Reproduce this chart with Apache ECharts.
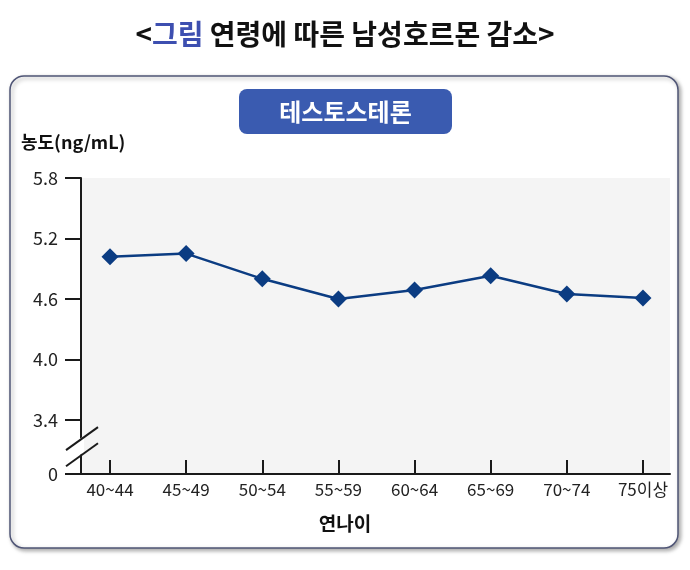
<!DOCTYPE html>
<html>
<head>
<meta charset="utf-8">
<style>
html,body{margin:0;padding:0;background:#fff;}
#chart{width:690px;height:570px;}
</style>
<script src="https://cdn.jsdelivr.net/npm/echarts@6.0.0/dist/echarts.min.js"></script>
</head>
<body>
<div id="chart"></div>
<script>
// ---- data ----
const categories = ['40~44', '45~49', '50~54', '55~59', '60~64', '65~69', '70~74', '75이상'];
const values = [5.02, 5.05, 4.80, 4.60, 4.69, 4.83, 4.65, 4.61];
const yTickValues = [3.4, 4.0, 4.6, 5.2, 5.8];
const yBottomLabel = '0';
const titlePrefix = '그림';
const titleText = ' 연령에 따른 남성호르몬 감소';
const badgeText = '테스토스테론';
const yAxisName = '농도(ng/mL)';
const xAxisName = '연나이';

const FONT = '"Noto Sans CJK KR", "Noto Sans", sans-serif';
const yMin = 2.864, yMax = 5.8;
const catIdx = categories.map((c, i) => i);

const chart = echarts.init(document.getElementById('chart'), null, {renderer: 'canvas'});

const option = {
  animation: false,
  title: {
    text: '{b|<}{c|' + titlePrefix + '}{b|' + titleText + '>}',
    left: 'center',
    top: 15,
    textStyle: {
      rich: {
        b: {fontFamily: FONT, fontSize: 28, fontWeight: 'bold', color: '#111'},
        c: {fontFamily: FONT, fontSize: 28, fontWeight: 'bold', color: '#3d4fb0'}
      }
    }
  },
  grid: {
    left: 81, right: 20, top: 178, bottom: 96,
    show: true, backgroundColor: '#f4f4f4', borderWidth: 0
  },
  xAxis: {
    type: 'value',
    min: -0.381, max: 7.355,
    axisLine: {show: true, onZero: false, lineStyle: {color: '#1a1a1a', width: 2}},
    axisTick: {show: true, inside: true, length: 14, customValues: catIdx, lineStyle: {color: '#1a1a1a', width: 2}},
    axisLabel: {
      customValues: catIdx, margin: 7,
      formatter: v => categories[Math.round(v)],
      fontFamily: FONT, fontSize: 17, color: '#222'
    },
    splitLine: {show: false}
  },
  yAxis: {
    type: 'value',
    min: yMin, max: yMax,
    axisLine: {show: true, onZero: false, lineStyle: {color: '#1a1a1a', width: 2}},
    axisTick: {show: true, length: 16, customValues: [yMin].concat(yTickValues), lineStyle: {color: '#1a1a1a', width: 2}},
    axisLabel: {
      customValues: [yMin].concat(yTickValues), margin: 23,
      formatter: v => (v < 3 ? yBottomLabel : v.toFixed(1)),
      fontFamily: FONT, fontSize: 18, color: '#222'
    },
    splitLine: {show: false}
  },
  series: [{
    type: 'line',
    data: values.map((v, i) => [i, v]),
    symbol: 'diamond',
    symbolSize: 17,
    itemStyle: {color: '#0b3c82'},
    lineStyle: {color: '#0b3c82', width: 2.5},
    z: 5
  }],
  graphic: [
    {
      type: 'rect', z: -100,
      shape: {x: 10, y: 76, width: 668, height: 472, r: 14},
      style: {fill: '#fff', stroke: '#4f5576', lineWidth: 1.5,
        shadowBlur: 4, shadowOffsetX: 2, shadowOffsetY: 2, shadowColor: 'rgba(0,0,0,0.35)'}
    },
    {
      type: 'rect', z: 10,
      shape: {x: 239, y: 89, width: 213, height: 45, r: 8},
      style: {fill: '#3a5bb0'}
    },
    {
      type: 'text', z: 11,
      x: 345.5, y: 111.5,
      style: {text: badgeText, fill: '#fff', font: 'bold 24px ' + FONT, textAlign: 'center', textVerticalAlign: 'middle'}
    },
    {
      type: 'text', z: 11,
      x: 21, y: 142,
      style: {text: yAxisName, fill: '#111', font: 'bold 18px ' + FONT, textAlign: 'left', textVerticalAlign: 'middle'}
    },
    {
      type: 'text', z: 11,
      x: 345, y: 524,
      style: {text: xAxisName, fill: '#111', font: 'bold 19px ' + FONT, textAlign: 'center', textVerticalAlign: 'middle'}
    }
  ]
};
chart.setOption(option);

// axis break marks, placed relative to the y axis
const ax = chart.convertToPixel({xAxisIndex: 0}, -0.381);
const yUp = chart.convertToPixel({yAxisIndex: 0}, 3.22);
const yLo = chart.convertToPixel({yAxisIndex: 0}, 3.06);
function brk(yc) {
  return {type: 'line', z: 20, shape: {x1: ax - 15, y1: yc + 12, x2: ax + 17, y2: yc - 11},
    style: {stroke: '#1a1a1a', lineWidth: 2}};
}
chart.setOption({graphic: option.graphic.concat([
  {type: 'polygon', z: 19,
   shape: {points: [[ax - 3, yUp + 2], [ax + 3, yUp - 2], [ax + 3, yLo - 2], [ax - 3, yLo + 2]]},
   style: {fill: '#fff'}},
  brk(yUp), brk(yLo)
])});
</script>
</body>
</html>
